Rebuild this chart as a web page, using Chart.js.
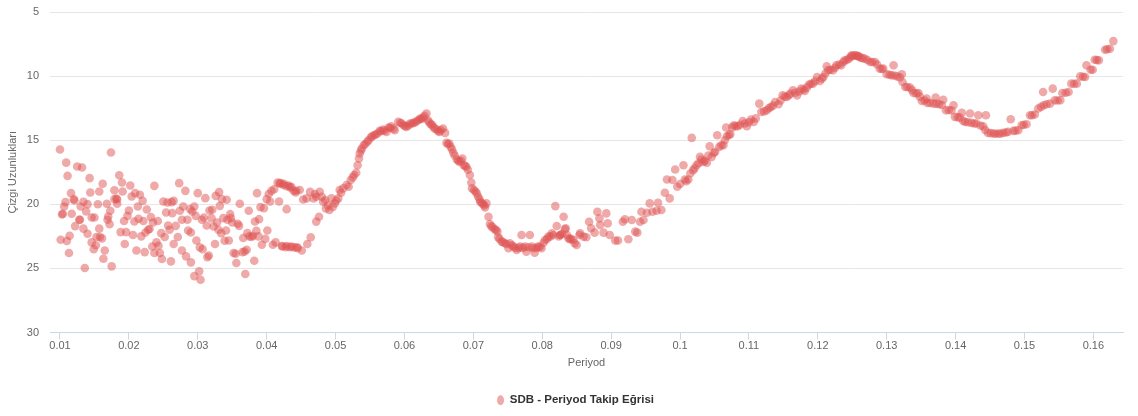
<!DOCTYPE html>
<html><head><meta charset="utf-8">
<script src="https://cdn.jsdelivr.net/npm/chart.js@4.4.0/dist/chart.umd.min.js"></script>
<style>html,body{margin:0;padding:0;background:#fff;}#wrap{width:1138px;height:416px;}</style>
</head><body><div id="wrap"><canvas id="c" width="1138" height="416"></canvas></div>
<script>
const seriesName = 'SDB - Periyod Takip Eğrisi';
const xAxisTitle = 'Periyod';
const yAxisTitle = 'Çizgi Uzunlukları';
const xTickValues = [0.01,0.02,0.03,0.04,0.05,0.06,0.07,0.08,0.09,0.10,0.11,0.12,0.13,0.14,0.15,0.16];
const yTickValues = [5,10,15,20,25,30];

// scattered early section
const scatterPeriods = [
.0100,.0101,.0104,.0103,.0106,.0108,.0109,.0111,.0110,.0114,
.0113,.0116,.0117,.0120,.0121,.0122,.0125,.0128,.0129,.0132,
.0130,.0134,.0134,.0136,.0138,.0140,.0140,.0143,.0144,.0146,
.0150,.0146,.0149,.0152,.0153,.0155,.0157,.0157,.0158,.0161,
.0162,.0163,.0165,.0168,.0169,.0170,.0172,.0173,.0174,.0175,
.0179,.0179,.0182,.0183,.0183,.0186,.0188,.0190,.0191,.0193,
.0194,.0196,.0198,.0200,.0202,.0204,.0206,.0208,.0209,.0211,
.0213,.0214,.0216,.0218,.0220,.0221,.0223,.0224,.0226,.0228,
.0230,.0232,.0234,.0235,.0237,.0237,.0240,.0242,.0243,.0245,
.0247,.0248,.0250,.0252,.0254,.0256,.0257,.0259,.0261,.0262,
.0263,.0265,.0265,.0268,.0271,.0273,.0274,.0277,.0277,.0279,
.0282,.0283,.0285,.0286,.0289,.0290,.0290,.0292,.0295,.0295,
.0297,.0298,.0300,.0302,.0303,.0304,.0306,.0307,.0309,.0311,
.0313,.0314,.0316,.0317,.0320,.0321,.0323,.0325,.0326,.0328,
.0330,.0331,.0332,.0334,.0335,.0337,.0339,.0341,.0342,.0343,
.0345,.0347,.0348,.0350,.0352,.0355,.0356,.0358,.0360,.0361,
.0365,.0366,.0368,.0369,.0371,.0372,.0374,.0375,.0378,.0380,
.0382,.0383,.0385,.0386,.0388,.0389,.0391,.0393,.0396,.0398,
.0400,.0401,.0403,.0405,.0407,.0409,.0411,.0413,.0416,.0418,
.0420,.0423,.0425,.0428,.0429,.0432,.0434,.0436,.0440,.0442,
.0445];
const scatterLengths = [
15.73,22.77,20.74,20.80,20.17,19.83,16.75,17.78,22.85,22.45,
23.8,19.13,20.74,19.6,19.7,21.7,17.05,21.2,21.2,17.13,
20.17,19.8,21.9,24.97,20.56,19.99,22.3,17.96,19.08,21.03,
21.03,22.97,23.5,23.2,22.55,20.0,21.9,19.0,22.55,22.66,
18.4,24.25,23.6,19.96,21.2,20.95,21.55,20.5,15.96,24.84,
18.9,19.6,19.55,19.62,19.96,17.73,22.17,18.3,19.0,21.3,
23.1,22.17,20.9,20.48,18.53,19.39,22.4,21.34,19.13,23.6,
20.17,21.13,19.26,22.5,19.73,21.3,23.73,22.2,20.4,21.99,
21.93,21.0,23.29,21.42,18.56,23.8,22.97,21.3,23.23,23.8,
22.25,24.27,19.78,22.55,20.64,19.86,21.65,21.99,24.45,19.83,
20.69,19.73,23.1,21.68,22.55,18.35,20.5,21.2,23.6,20.17,
18.95,24.06,21.2,22.04,20.38,22.2,24.53,20.56,20.17,25.6,
20.9,22.82,19.13,25.23,23.36,25.88,21.2,23.5,21.03,19.52,
21.65,24.12,24.0,20.48,21.08,20.43,21.73,23.1,19.34,21.42,
21.99,19.05,20.12,22.25,19.6,21.08,22.84,22.04,19.65,21.2,
22.82,20.77,21.08,21.42,23.8,23.86,24.58,21.52,21.68,19.96,
23.73,22.63,23.68,25.44,23.55,22.25,20.5,22.5,22.55,22.45,
24.4,21.34,22.07,19.13,22.5,21.16,20.22,23.16,20.3,22.7,
19.6,22.04,19.2,19.78,18.95,23.16,18.82,22.97,18.3,19.78,
18.35,23.29,18.4,23.34,20.38,18.53,23.34,18.66,23.36,19.08,
23.42];

// first hump and trough
const humpPeriods = [
.0419,.0424,.0429,.0434,.0439,.0443,.0448,.0453,.0458,.0463,
.0468,.0472,.0477,.0480,.0485,.0486,.0491,.0494,.0499,.0504,
.0506,.0511,.0516,.0519,.0522,.0527,.0530,.0532,.0534,.0535,
.0538,.0541,.0546,.0551,.0556,.0561,.0564,.0569,.0574,.0577,
.0581,.0586,.0591,.0594,.0599,.0603,.0608,.0613,.0618,.0623,
.0627,.0632,.0634,.0638,.0642,.0647,.0651,.0656,.0659,.0661,
.0665,.0667,.0671,.0676,.0680,.0684,.0686,.0690,.0695,.0698,
.0701,.0705,.0707,.0710,.0714,.0717,.0719,.0722,.0724,.0728,
.0731,.0735,.0736,.0741,.0746,.0751,.0753,.0758,.0763,.0768,
.0770,.0775,.0777,.0782,.0787,.0789,.0794,.0799,.0804,.0809,
.0814,.0819,.0821,.0826,.0831,.0834,.0838,.0845,.0850,.0854,
.0422,.0429,.0436,.0444,.0451,.0459,.0464,.0472,.0476,.0470,
.0482,.0489,.0496,.0501,.0508,.0525,.0537,.0543,.0548,.0553,
.0558,.0566,.0571,.0579,.0584,.0596,.0601,.0606,.0611,.0616,
.0621,.0625,.0629,.0636,.0640,.0644,.0649,.0653,.0663,.0669,
.0673,.0678,.0682,.0688,.0692,.0697,.0703,.0709,.0712,.0716,
.0726,.0733,.0738,.0743,.0748,.0756,.0761,.0766,.0772,.0780,
.0785,.0792,.0797,.0802,.0807,.0812,.0816,.0824,.0829,.0836,
.0842];
const humpLengths = [
18.37,18.50,18.58,18.68,18.94,18.94,18.89,19.62,19.54,19.02,
19.54,19.41,19.02,19.41,19.67,20.32,20.45,19.54,19.93,19.54,
18.89,18.76,18.50,18.63,18.11,17.72,17.54,16.95,16.43,16.04,
15.65,15.39,15.13,14.79,14.61,14.48,14.27,14.17,14.35,14.01,
13.91,14.22,13.57,13.65,13.83,13.96,13.70,13.65,13.50,13.31,
13.24,12.92,13.44,13.75,13.96,14.17,14.35,14.09,14.43,15.21,
15.26,15.52,15.99,16.50,16.69,16.43,16.95,17.08,17.72,18.76,
18.89,19.15,19.41,19.80,19.98,20.24,19.93,20.97,21.54,21.80,
21.95,22.13,22.57,22.91,23.04,23.43,23.04,23.30,23.56,23.30,
22.39,23.30,23.69,22.39,23.43,23.77,23.30,23.43,22.78,22.52,
22.26,20.14,21.69,22.39,20.97,21.87,22.65,22.78,23.17,22.39,
23.25,23.25,23.3,23.35,23.6,23.1,22.57,21.35,20.97,19.2,
19.8,20.1,20.2,19.7,19.1,17.9,15.8,15.3,15.0,14.7,
14.55,14.3,14.25,14.05,14.1,13.7,13.9,13.85,13.7,13.6,
13.4,13.35,13.1,13.6,13.8,14.1,14.3,14.2,15.3,15.7,
16.2,16.6,16.6,17.0,17.3,18.3,19.0,19.6,19.9,20.1,
21.7,22.0,22.7,22.95,23.1,23.2,23.4,23.4,23.4,23.35,
23.3,23.4,23.3,23.0,22.7,22.5,22.4,22.5,22.3,22.4,
22.7];

// long rise to the main peak
const risePeriods = [
.0826,.0833,.0840,.0847,.0855,.0860,.0864,.0868,.0871,.0876,
.0880,.0883,.0884,.0889,.0893,.0895,.0898,.0906,.0910,.0917,
.0920,.0925,.0930,.0935,.0938,.0942,.0944,.0947,.0952,.0956,
.0960,.0966,.0968,.0973,.0978,.0981,.0985,.0989,.0993,.0996,
.1000,.1005,.1007,.1012,.1017,.1019,.1024,.1029,.1034,.1039,
.1043,.1046,.1051,.1054,.1057,.1063,.1067,.1068,.1073,.1078,
.1084,.1091,.1097,.1103,.1107,.1115,.1118,.1126,.1132,.1138,
.1143,.1149,.1155,.1160,.1164,.1170,.1176,.1181,.1187,.1193,
.1199,.1203,.1208,.1213,.1215,.1222,.1227,.1234,.1239,.1245,
.1251,.1259,
.1009,.1015,.1021,.1027,.1031,.1036,.1041,.1049,.1060,.1065,
.1071,.1076,.1081,.1087,.1094,.1100,.1110,.1122,.1129,.1135,
.1146,.1152,.1158,.1167,.1173,.1179,.1184,.1190,.1196,.1206,
.1211,.1218,.1225,.1231,.1237,.1242,.1248,.1254];
const riseLengths = [
22.39,21.95,22.73,23.04,22.26,22.52,22.57,21.36,21.87,22.21,
20.58,21.10,21.62,22.21,20.71,21.49,22.39,22.83,22.83,21.36,
21.17,22.73,21.23,22.13,22.21,21.36,20.58,21.23,20.66,19.93,
20.58,20.50,19.88,20.45,19.10,18.06,19.54,18.11,17.28,18.63,
18.42,16.95,18.06,18.06,14.82,17.34,16.95,16.30,16.69,16.76,
15.47,16.30,15.91,14.61,15.52,15.39,14.01,14.69,14.53,13.83,
13.91,13.50,13.91,13.39,13.57,12.15,12.80,12.67,12.41,12.02,
12.20,11.50,11.63,11.37,11.11,11.50,10.98,11.16,10.67,10.59,
10.07,10.38,10.07,9.24,9.55,9.55,9.16,9.16,8.77,8.64,
8.39,8.46,
18.2,17.6,17.2,16.8,16.5,16.6,16.2,16.0,15.4,15.0,
14.6,14.0,13.9,13.8,13.7,13.6,13.3,12.75,12.5,12.3,
11.9,11.6,11.5,11.3,11.2,11.05,10.9,10.6,10.4,10.2,
9.8,9.5,9.35,9.1,8.9,8.75,8.5,8.4];

// after the main peak
const tailPeriods = [
.1249,.1256,.1262,.1268,.1276,.1283,.1290,.1295,.1300,.1307,
.1310,.1315,.1322,.1323,.1327,.1334,.1339,.1346,.1351,.1358,
.1359,.1368,.1371,.1376,.1382,.1386,.1394,.1397,.1399,.1406,
.1409,.1414,.1421,.1423,.1430,.1433,.1440,.1444,.1447,.1455,
.1462,.1469,.1476,.1480,.1484,.1491,.1496,.1503,.1508,.1515,
.1520,.1527,.1528,.1537,.1541,.1544,.1552,.1555,.1564,.1568,
.1576,.1581,.1588,.1590,.1596,.1602,.1608,.1617,.1624,.1629,
.1259,.1265,.1272,.1279,.1286,.1293,.1304,.1311,.1319,.1330,
.1337,.1343,.1348,.1355,.1363,.1372,.1380,.1390,.1403,.1411,
.1418,.1427,.1436,.1443,.1451,.1458,.1465,.1473,.1487,.1499,
.1511,.1524,.1532,.1548,.1560,.1572,.1585,.1599,.1605,.1620];
const tailLengths = [
8.38,8.38,8.57,8.64,8.90,8.90,9.42,9.42,9.86,9.94,
9.16,10.02,9.86,10.46,10.85,10.90,11.32,11.32,11.94,11.76,
12.09,12.15,11.68,12.20,11.84,12.67,12.67,12.28,13.18,13.24,
12.87,13.57,12.92,13.65,13.70,13.05,13.91,13.05,14.43,14.48,
14.48,14.43,14.35,13.36,14.27,14.22,13.83,13.75,13.05,13.00,
12.53,11.24,12.28,12.15,10.98,11.89,11.89,11.32,11.24,10.59,
10.59,10.02,10.07,9.16,9.50,8.72,8.77,7.94,7.87,7.27,
8.45,8.6,8.75,8.9,9.1,9.45,9.9,9.95,10.1,10.85,
11.1,11.35,11.6,11.9,12.1,12.15,12.25,12.65,13.2,13.5,
13.6,13.7,13.85,14.2,14.45,14.5,14.5,14.4,14.25,13.8,
13.05,12.4,12.2,11.9,11.3,10.6,10.05,9.5,8.75,7.9];

const allPeriods = [].concat(scatterPeriods, humpPeriods, risePeriods, tailPeriods);
const allLengths = [].concat(scatterLengths, humpLengths, riseLengths, tailLengths);
const points = allPeriods.map((p, i) => ({x: p, y: allLengths[i]}));

Chart.defaults.font.family = '"Liberation Sans", Arial, sans-serif';
const axisGrey = '#666666';

new Chart(document.getElementById('c'), {
  type: 'scatter',
  data: {
    datasets: [{
      label: seriesName,
      data: points,
      backgroundColor: 'rgba(223, 83, 83, 0.5)',
      borderWidth: 0,
      pointRadius: 4.3,
      pointHoverRadius: 4.3,
      xAxisID: 'x',
      yAxisID: 'y'
    }]
  },
  options: {
    responsive: false,
    animation: false,
    devicePixelRatio: 1,
    layout: {padding: {top: 12, right: 0, left: 13, bottom: 0}},
    plugins: {
      tooltip: {enabled: false},
      legend: {
        position: 'bottom',
        labels: {
          usePointStyle: true,
          pointStyle: 'circle',
          pointStyleWidth: 7,
          boxWidth: 7,
          boxHeight: 7,
          color: '#333333',
          font: {size: 11.5, weight: 'bold'},
          padding: 10
        }
      }
    },
    scales: {
      x: {
        type: 'linear',
        min: 0.00855,
        max: 0.1643,
        afterBuildTicks: s => { s.ticks = xTickValues.map(v => ({value: v})); },
        afterFit: s => { s.height = 52; s.paddingLeft = 0; s.paddingRight = 0; },
        ticks: {
          callback: v => String(+Number(v).toFixed(2)),
          color: axisGrey, font: {size: 11}, padding: 0, maxRotation: 0, autoSkip: false
        },
        grid: {drawOnChartArea: false, drawTicks: true, tickLength: 7, color: '#ccd6eb'},
        border: {display: true, color: '#ccd6eb'},
        title: {display: true, text: xAxisTitle, color: axisGrey, font: {size: 11}, padding: {top: 4, bottom: 15}}
      },
      y: {
        type: 'linear',
        reverse: true,
        min: 5,
        max: 30,
        afterBuildTicks: s => { s.ticks = yTickValues.map(v => ({value: v})); },
        afterFit: s => { s.width = 37; s.paddingTop = 0; s.paddingBottom = 0; },
        ticks: {color: axisGrey, font: {size: 11}, padding: 11},
        grid: {color: '#e6e6e6', drawTicks: false},
        border: {display: false},
        title: {display: true, text: yAxisTitle, color: axisGrey, font: {size: 11}, padding: {top: -7, bottom: 0}}
      },
      rightSpace: {
        type: 'linear',
        position: 'right',
        display: true,
        grid: {display: false, drawTicks: false},
        border: {display: false},
        ticks: {display: false},
        afterFit: s => { s.width = 15; s.paddingTop = 0; s.paddingBottom = 0; }
      }
    }
  }
});
</script>
</body></html>
